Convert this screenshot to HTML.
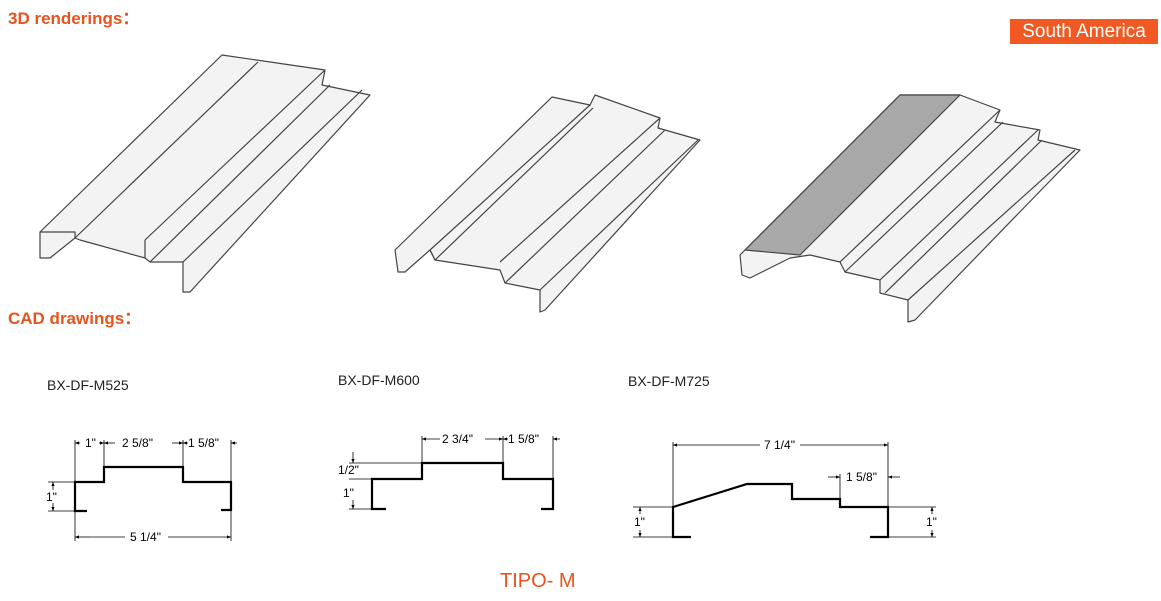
<!DOCTYPE html>
<html><head><meta charset="utf-8"><style>
body{margin:0;width:1161px;height:601px;background:#fff;position:relative;overflow:hidden;font-family:"Liberation Sans",Arial,sans-serif}
.h{position:absolute;color:#e8541e;font-weight:bold;font-size:17px}
.lbl{position:absolute;font-size:14px;color:#222}
</style></head><body>
<div class="h" style="left:8px;top:4px">3D renderings：</div>
<div class="h" style="left:8px;top:304px">CAD drawings：</div>
<div style="position:absolute;left:1010px;top:19px;width:148px;height:25px;background:#f05a22;color:#fff;font-size:19px;line-height:25px;text-align:center">South America</div>
<div class="lbl" style="left:47px;top:377px">BX-DF-M525</div>
<div class="lbl" style="left:338px;top:372px">BX-DF-M600</div>
<div class="lbl" style="left:628px;top:373px">BX-DF-M725</div>
<div style="position:absolute;left:500px;top:570px;color:#e8541e;font-size:20px">TIPO- M</div>
<svg width="1161" height="601" style="position:absolute;left:0;top:0" font-family="Liberation Sans,Arial,sans-serif" font-size="11">
<defs><marker id="a" markerWidth="6" markerHeight="6" refX="5" refY="3" orient="auto"><path d="M0,1 L5,3 L0,5z" fill="#000"/></marker></defs>
<!-- 3D 1 -->
<g stroke="#444" stroke-width="1.2" fill="#f3f3f3" stroke-linejoin="round">
<polygon points="40,232 222,55 325,70 322,85 370,95 190,292 183,292 183,262 150,262 145,258 80,240 75,238 50,258 40,258"/>
<polyline fill="none" points="75,238 258,62"/>
<polyline fill="none" points="145,240 325,70"/>
<polyline fill="none" points="150,262 330,85"/>
<polyline fill="none" points="183,262 362,90"/>
<polyline fill="none" points="40,232 75,232 75,238"/>
<polyline fill="none" points="145,240 145,258"/>
</g>
<!-- 3D 2 -->
<g stroke="#444" stroke-width="1.2" fill="#f3f3f3" stroke-linejoin="round">
<polygon points="395,250 552,97 590,105 595,95 660,118 658,128 700,140 545,310 540,312 540,290 505,283 500,270 435,260 430,250 405,272 398,272"/>
<polyline fill="none" points="430,250 590,105"/>
<polyline fill="none" points="500,262 660,118"/>
<polyline fill="none" points="505,283 665,130"/>
<polyline fill="none" points="540,290 698,140"/>
<polyline fill="none" points="430,250 435,260 593,108"/>
</g>
<!-- 3D 3 -->
<g stroke="#444" stroke-width="1.2" stroke-linejoin="round">
<polygon fill="#f3f3f3" points="740,255 900,95 960,95 1000,110 995,122 1040,130 1038,140 1080,150 915,320 908,322 908,300 880,293 880,280 845,272 840,262 810,255 790,258 750,278 742,275"/>
<polygon fill="#a9a9a9" points="745,250 900,95 960,95 800,255"/>
<polyline fill="none" points="840,262 1000,110"/>
<polyline fill="none" points="845,272 1003,122"/>
<polyline fill="none" points="880,280 1038,130"/>
<polyline fill="none" points="885,293 1042,140"/>
<polyline fill="none" points="908,300 1075,150"/>
</g>
<!-- CAD 1 -->
<g fill="none" stroke="#000">
<polyline stroke-width="2.2" points="87,511 75,511 75,482 104,482 104,467 183,467 183,482 231,482 231,510 221,510"/>
<g stroke-width="0.8">
<line x1="75" y1="440" x2="75" y2="482"/><line x1="104" y1="440" x2="104" y2="467"/><line x1="183" y1="440" x2="183" y2="467"/><line x1="231" y1="440" x2="231" y2="482"/>
<line x1="75" y1="511" x2="75" y2="541"/><line x1="231" y1="510" x2="231" y2="541"/>
<line x1="48" y1="482" x2="75" y2="482"/><line x1="48" y1="511" x2="75" y2="511"/>
<line x1="90" y1="537" x2="75" y2="537" marker-end="url(#a)"/><line x1="125" y1="537" x2="90" y2="537"/>
<line x1="168" y1="537" x2="231" y2="537" marker-end="url(#a)"/>
<line x1="80" y1="443" x2="75" y2="443" marker-end="url(#a)"/><line x1="99" y1="443" x2="104" y2="443" marker-end="url(#a)"/>
<line x1="115" y1="443" x2="104" y2="443" marker-end="url(#a)"/><line x1="172" y1="443" x2="183" y2="443" marker-end="url(#a)"/>
<line x1="188" y1="443" x2="183" y2="443" marker-end="url(#a)"/><line x1="237" y1="443" x2="231" y2="443" marker-end="url(#a)"/>
<line x1="53" y1="490" x2="53" y2="482" marker-end="url(#a)"/><line x1="53" y1="503" x2="53" y2="511" marker-end="url(#a)"/>
</g></g>
<g fill="#000" font-size="12"><text x="85" y="447">1"</text><text x="122" y="447">2 5/8"</text><text x="188" y="447">1 5/8"</text><text x="130" y="541">5 1/4"</text><text x="46" y="501">1"</text></g>
<!-- CAD 2 -->
<g fill="none" stroke="#000">
<polyline stroke-width="2.2" points="386,509 372,509 372,479 422,479 422,463 503,463 503,479 553,479 553,509 541,509"/>
<g stroke-width="0.8">
<line x1="422" y1="436" x2="422" y2="463"/><line x1="503" y1="436" x2="503" y2="463"/><line x1="553" y1="436" x2="553" y2="479"/>
<line x1="349" y1="463" x2="422" y2="463"/><line x1="349" y1="479" x2="372" y2="479"/><line x1="349" y1="509" x2="372" y2="509"/>
<line x1="440" y1="439" x2="422" y2="439" marker-end="url(#a)"/><line x1="485" y1="439" x2="503" y2="439" marker-end="url(#a)"/>
<line x1="508" y1="439" x2="503" y2="439" marker-end="url(#a)"/><line x1="560" y1="439" x2="553" y2="439" marker-end="url(#a)"/>
<line x1="353" y1="452" x2="353" y2="463" marker-end="url(#a)"/><line x1="353" y1="500" x2="353" y2="509" marker-end="url(#a)"/>
</g></g>
<g fill="#000" font-size="12"><text x="442" y="443">2 3/4"</text><text x="508" y="443">1 5/8"</text><text x="338" y="474">1/2"</text><text x="343" y="497">1"</text></g>
<!-- CAD 3 -->
<g fill="none" stroke="#000">
<polyline stroke-width="2.2" points="691,537 673,537 673,507 747,484 792,484 792,499 840,499 840,507 888,507 888,537 870,537"/>
<g stroke-width="0.8">
<line x1="673" y1="442" x2="673" y2="507"/><line x1="888" y1="442" x2="888" y2="507"/><line x1="840" y1="474" x2="840" y2="499"/>
<line x1="633" y1="507" x2="673" y2="507"/><line x1="633" y1="537" x2="673" y2="537"/>
<line x1="888" y1="507" x2="936" y2="507"/><line x1="888" y1="537" x2="936" y2="537"/>
<line x1="760" y1="445" x2="673" y2="445" marker-end="url(#a)"/><line x1="800" y1="445" x2="888" y2="445" marker-end="url(#a)"/>
<line x1="828" y1="477" x2="840" y2="477" marker-end="url(#a)"/><line x1="900" y1="477" x2="888" y2="477" marker-end="url(#a)"/>
<line x1="640" y1="514" x2="640" y2="507" marker-end="url(#a)"/><line x1="640" y1="530" x2="640" y2="537" marker-end="url(#a)"/>
<line x1="932" y1="514" x2="932" y2="507" marker-end="url(#a)"/><line x1="932" y1="530" x2="932" y2="537" marker-end="url(#a)"/>
</g></g>
<g fill="#000" font-size="12"><text x="764" y="449">7 1/4"</text><text x="846" y="481">1 5/8"</text><text x="634" y="526">1"</text><text x="926" y="526">1"</text></g>
</svg>
</body></html>
